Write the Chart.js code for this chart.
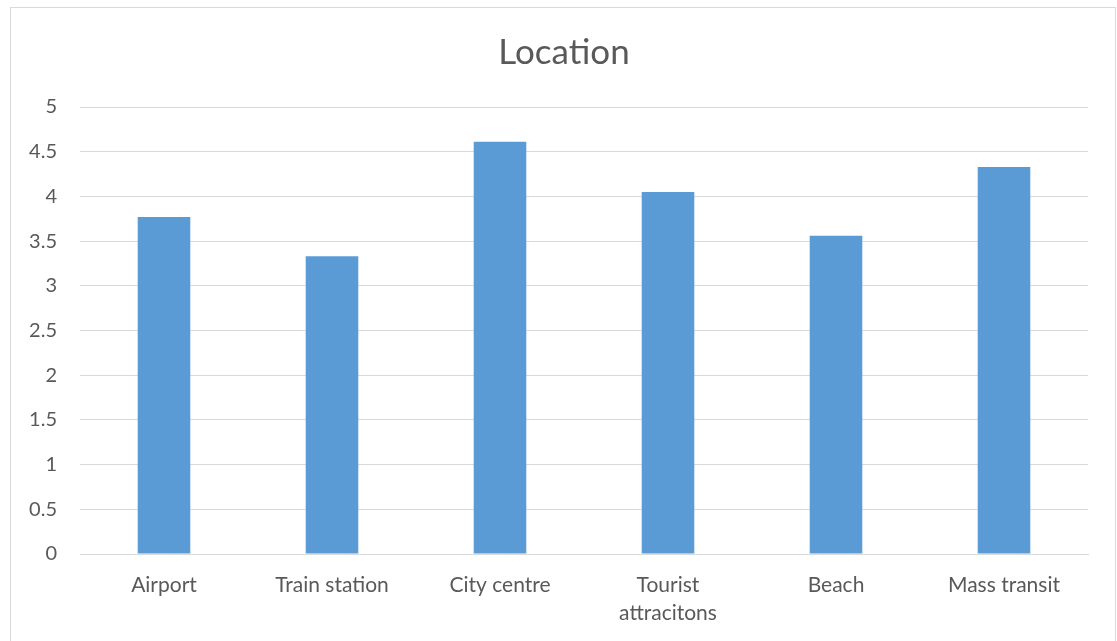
<!DOCTYPE html>
<html>
<head>
<meta charset="utf-8">
<script src="https://cdn.jsdelivr.net/npm/chart.js@4"></script>
<style>
html,body{margin:0;padding:0;background:#fff;}
#wrap{position:relative;width:1117px;height:641px;}
</style>
</head>
<body>
<div id="wrap"><canvas id="c" width="1117" height="641"></canvas></div>
<script>
const categories = ['Airport', 'Train station', 'City centre', ['Tourist', 'attracitons'], 'Beach', 'Mass transit'];
const values = [3.77, 3.33, 4.61, 4.05, 3.56, 4.33];
const chartTitle = 'Location';
const yMin = 0, yMax = 5, yStep = 0.5;

const framePlugin = {
  id: 'frameAndTitle',
  beforeDraw(chart) {
    const ctx = chart.ctx;
    ctx.save();
    ctx.fillStyle = '#ffffff';
    ctx.fillRect(0, 0, chart.width, chart.height);
    ctx.strokeStyle = '#d9d9d9';
    ctx.lineWidth = 1;
    ctx.strokeRect(10.5, 7.5, 1105, 700);
    ctx.restore();
  },
  afterDraw(chart) {
    const ctx = chart.ctx;
    ctx.save();
    ctx.fillStyle = '#595959';
    ctx.font = 'normal 35px Lato';
    ctx.textAlign = 'center';
    ctx.textBaseline = 'middle';
    ctx.fillText(chartTitle, 564, 53);
    ctx.restore();
  }
};

new Chart(document.getElementById('c'), {
  type: 'bar',
  data: {
    labels: categories,
    datasets: [{
      data: values,
      backgroundColor: '#5b9bd5',
      borderWidth: 0,
      categoryPercentage: 1,
      barPercentage: 0.313
    }]
  },
  plugins: [framePlugin],
  options: {
    responsive: false,
    animation: false,
    devicePixelRatio: 1,
    layout: { padding: { left: 0, right: 29, top: 107, bottom: 0 } },
    plugins: {
      legend: { display: false },
      tooltip: { enabled: false },
      title: { display: false }
    },
    scales: {
      x: {
        grid: { display: false },
        border: { display: true, color: '#d9d9d9', width: 1 },
        ticks: {
          color: '#595959',
          font: { family: 'Lato', size: 21, lineHeight: 1.3 },
          padding: 10,
          maxRotation: 0,
          autoSkip: false
        },
        afterFit(scale) { scale.height = 87; }
      },
      y: {
        min: yMin,
        max: yMax,
        grid: { color: '#d9d9d9', lineWidth: 1, drawTicks: false },
        border: { display: false },
        ticks: {
          stepSize: yStep,
          color: '#595959',
          font: { family: 'Lato', size: 20 },
          padding: 23,
          callback: (v) => String(Number(v))
        },
        afterFit(scale) { scale.width = 80; }
      }
    }
  }
});
</script>
</body>
</html>
